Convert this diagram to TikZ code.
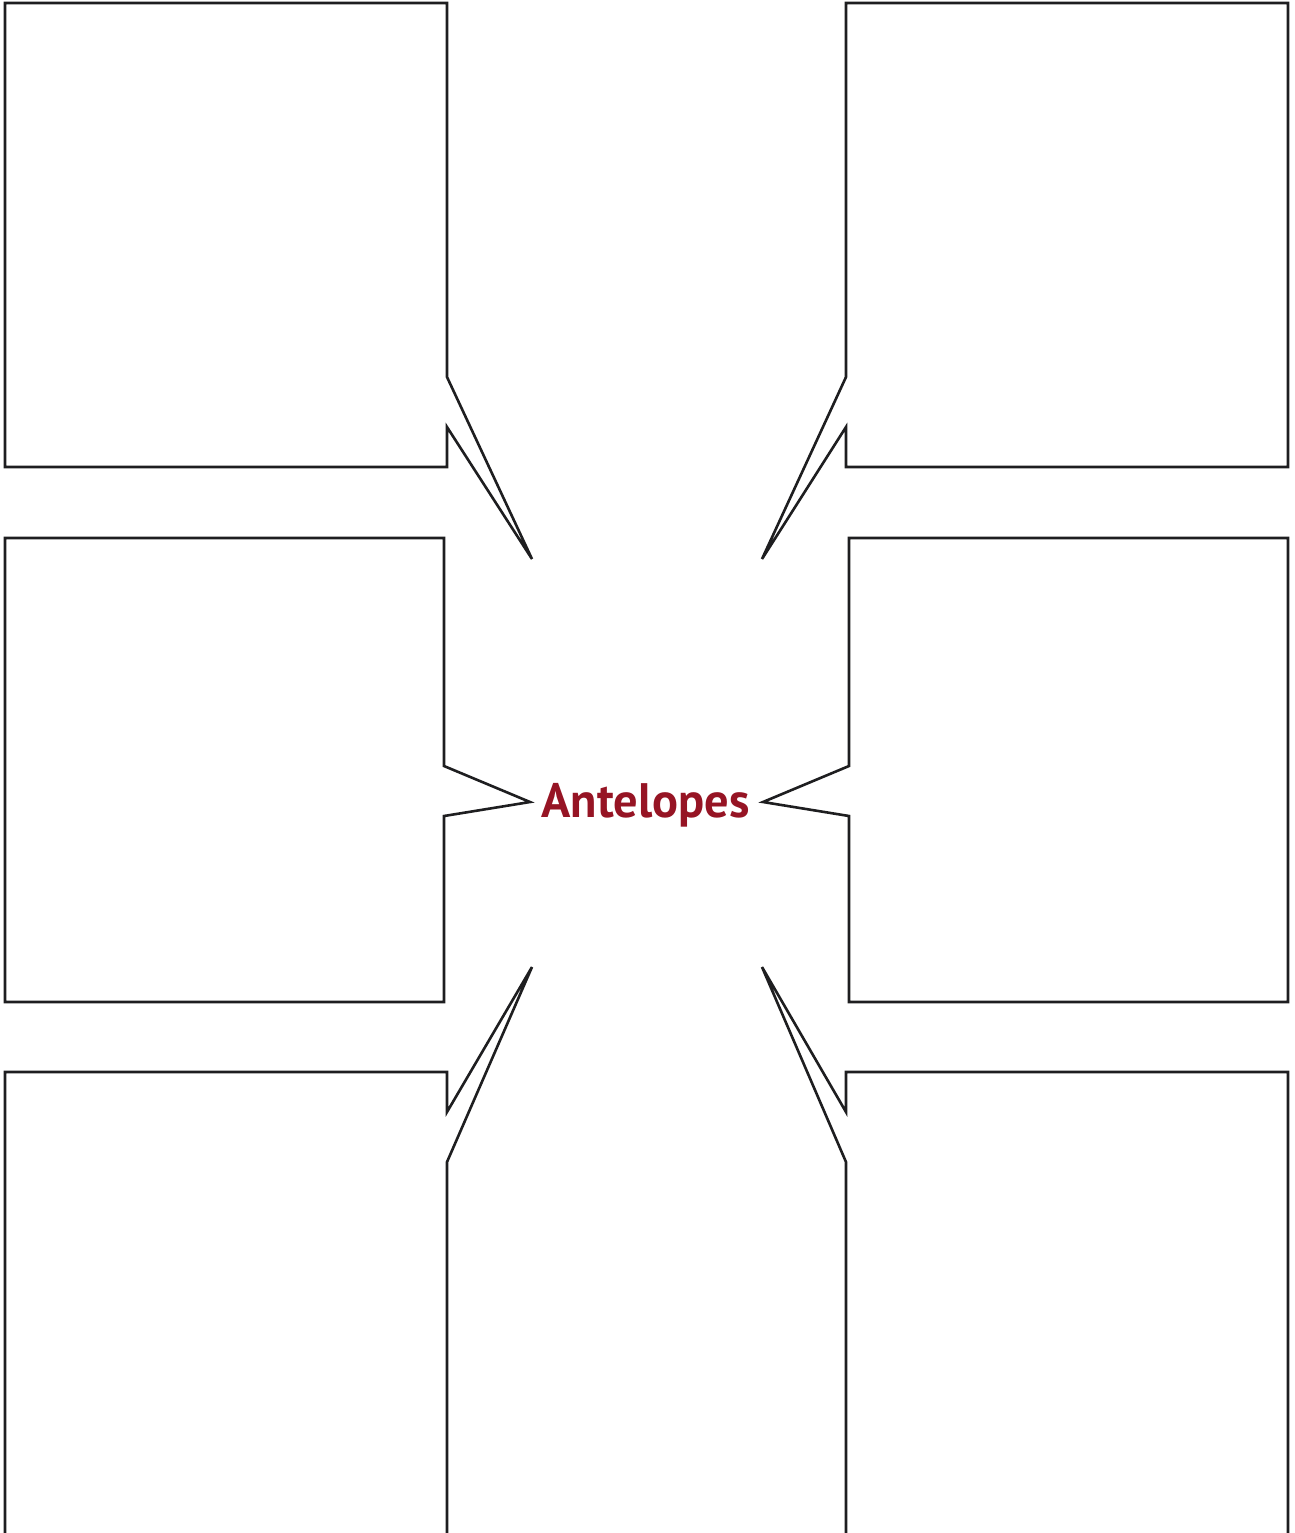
\documentclass[tikz,border=0pt]{standalone}
\usepackage{fontspec}
\newfontfamily\titlefont{PT Sans}
\usepackage{xcolor}
\definecolor{antred}{RGB}{150,20,36}
\definecolor{boxline}{RGB}{30,30,32}
\tikzset{
  callout/.style={draw=boxline, line width=1.3pt, line join=miter},
  title/.style={font=\titlefont\bfseries\fontsize{24.2}{29}\selectfont, text=antred}
}

\begin{document}
\begin{tikzpicture}[x=0.5pt, y=-0.5pt]
    \useasboundingbox (0,0) rectangle (1295,1533);
    \clip (0,0) rectangle (1295,1533);

    \node[title] (title) at (645.5, 805) {Antelopes};

    % tips of the pointers
    \coordinate (tl) at (532, 559);
    \coordinate (tr) at (762, 559);
    \coordinate (ml) at (530, 802);
    \coordinate (mr) at (763, 802);
    \coordinate (bl) at (532, 967);
    \coordinate (br) at (762, 967);

    % top row
    \draw[callout] (5, 3) -- (447, 3) -- (447, 377) -- (tl) -- (447, 427)
        -- (447, 467) -- (5, 467) -- cycle;
    \draw[callout] (1288, 3) -- (846, 3) -- (846, 377) -- (tr) -- (846, 427)
        -- (846, 467) -- (1288, 467) -- cycle;

    % middle row
    \draw[callout] (5, 538) -- (444, 538) -- (444, 766) -- (ml) -- (444, 816)
        -- (444, 1002) -- (5, 1002) -- cycle;
    \draw[callout] (1288, 538) -- (849, 538) -- (849, 766) -- (mr) -- (849, 816)
        -- (849, 1002) -- (1288, 1002) -- cycle;

    % bottom row, running off the page
    \draw[callout] (5, 1545) -- (5, 1072) -- (447, 1072) -- (447, 1112) -- (bl)
        -- (447, 1162) -- (447, 1545);
    \draw[callout] (1288, 1545) -- (1288, 1072) -- (846, 1072) -- (846, 1112) -- (br)
        -- (846, 1162) -- (846, 1545);
\end{tikzpicture}
\end{document}
